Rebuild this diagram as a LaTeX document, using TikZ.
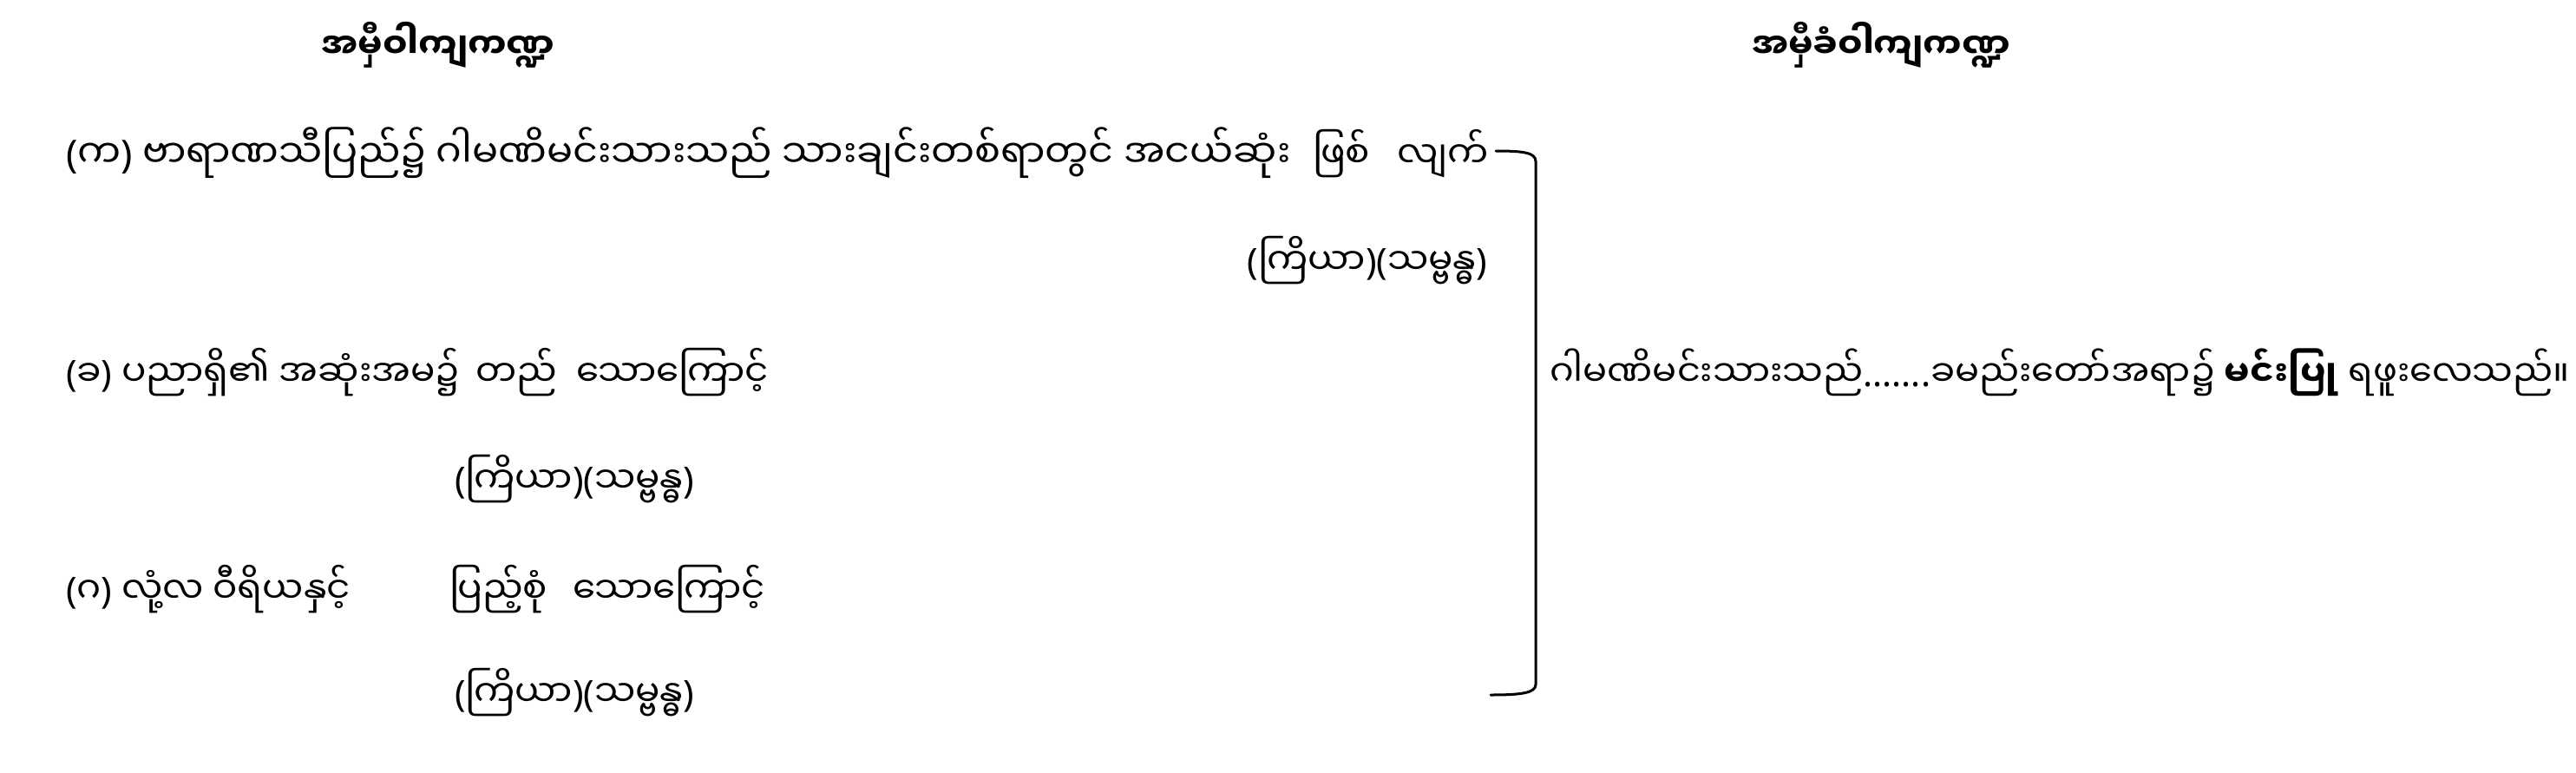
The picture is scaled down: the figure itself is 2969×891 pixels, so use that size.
\documentclass[tikz,border=0pt]{standalone}
\usepackage{fontspec}
\newfontfamily\mm[Script=Myanmar]{Noto Sans Myanmar UI}
\newfontfamily\lat{Noto Sans}
\newcommand\pa[1]{{\lat(}#1{\lat)}}
\begin{document}
\begin{tikzpicture}[x=1pt,y=-1pt,
  txt/.style={inner sep=0pt,outer sep=0pt,font=\mm\fontsize{42}{50}\selectfont},
  wide/.style={txt,font=\mm\fontsize{44.5}{52}\selectfont},
  rtx/.style={txt,font=\mm\fontsize{41.5}{50}\selectfont},
  ttl/.style={txt,font=\mm\bfseries\fontsize{40}{48}\selectfont},
  brk/.style={line width=3pt,line cap=round}]
\useasboundingbox[fill=white] (0,0) rectangle (2969,891);
\node[ttl,anchor=base] (t1) at (505,67) {အမှီဝါကျကဏ္ဍ};
\node[ttl,anchor=base] (t2) at (2168,67) {အမှီခံဝါကျကဏ္ဍ};
\node[wide,anchor=base west] (k1) at (76,193) {\pa{က} ဗာရာဏသီပြည်၌ ဂါမဏိမင်းသားသည် သားချင်းတစ်ရာတွင် အငယ်ဆုံး};
\node[txt,anchor=base west] (k2) at (1513,193) {ဖြစ်};
\node[txt,anchor=base west] (k3) at (1610,193) {လျက်};
\node[txt,anchor=base east] (s1) at (1714,316) {\pa{ကြိယာ}\pa{သမ္ဗန္ဓ}};
\node[txt,anchor=base west] (c1) at (76,445) {\pa{ခ} ပညာရှိ၏ အဆုံးအမ၌};
\node[txt,anchor=base west] (c1b) at (548,445) {တည်};
\node[txt,anchor=base west] (c2) at (664,445) {သောကြောင့်};
\node[txt,anchor=base west] (s2) at (524,568) {\pa{ကြိယာ}\pa{သမ္ဗန္ဓ}};
\node[txt,anchor=base west] (g1) at (76,695) {\pa{ဂ} လုံ့လ ဝီရိယနှင့်};
\node[txt,anchor=base west] (g2) at (518,695) {ပြည့်စုံ};
\node[txt,anchor=base west] (g3) at (660,695) {သောကြောင့်};
\node[txt,anchor=base west] (s3) at (524,814) {\pa{ကြိယာ}\pa{သမ္ဗန္ဓ}};
\node[rtx,anchor=base west] (r) at (1786,445) {ဂါမဏိမင်းသားသည်{\lat .......}ခမည်းတော်အရာ၌ {\bfseries မင်းပြု} ရဖူးလေသည်။};
\coordinate (bt) at (1724,174);
\coordinate (bb) at (1718,801);
\draw[brk] (bt) .. controls (1756,174) and (1770,176) .. (1770,186) -- (1770,789) .. controls (1770,799) and (1752,801) .. (bb);
\end{tikzpicture}
\end{document}
